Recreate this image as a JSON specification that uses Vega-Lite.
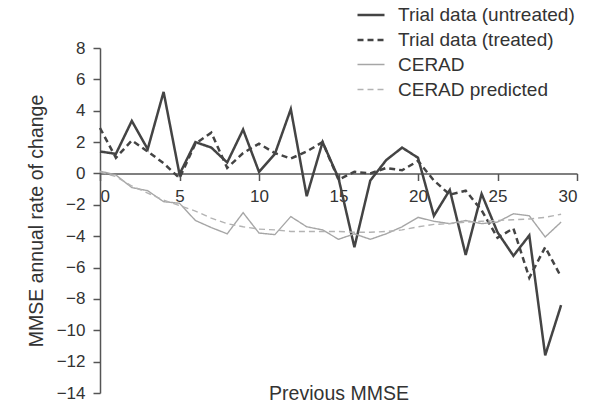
{
  "$schema": "https://vega.github.io/schema/vega-lite/v6.json",
  "width": 477,
  "height": 345,
  "autosize": "none",
  "padding": {"left": 100, "top": 48, "right": 18, "bottom": 10},
  "background": "white",
  "config": {
    "view": {"stroke": null},
    "font": "Liberation Sans",
    "axis": {
      "grid": false,
      "domainColor": "#555555",
      "domainWidth": 1.5,
      "tickColor": "#555555",
      "tickWidth": 1.5,
      "tickSize": 7,
      "labelColor": "#333333",
      "labelFontSize": 17,
      "labelFont": "Liberation Sans",
      "titleFont": "Liberation Sans",
      "titleFontSize": 19.5,
      "titleFontWeight": "normal",
      "titleColor": "#333333"
    }
  },
  "datasets": {
    "series": [
      {"x": 0, "s": "Trial data (untreated)", "y": 1.4},
      {"x": 1, "s": "Trial data (untreated)", "y": 1.25},
      {"x": 2, "s": "Trial data (untreated)", "y": 3.35},
      {"x": 3, "s": "Trial data (untreated)", "y": 1.55},
      {"x": 4, "s": "Trial data (untreated)", "y": 5.2},
      {"x": 5, "s": "Trial data (untreated)", "y": -0.05},
      {"x": 6, "s": "Trial data (untreated)", "y": 2.0},
      {"x": 7, "s": "Trial data (untreated)", "y": 1.65},
      {"x": 8, "s": "Trial data (untreated)", "y": 0.7},
      {"x": 9, "s": "Trial data (untreated)", "y": 2.8},
      {"x": 10, "s": "Trial data (untreated)", "y": 0.1},
      {"x": 11, "s": "Trial data (untreated)", "y": 1.25},
      {"x": 12, "s": "Trial data (untreated)", "y": 4.1},
      {"x": 13, "s": "Trial data (untreated)", "y": -1.45},
      {"x": 14, "s": "Trial data (untreated)", "y": 2.0},
      {"x": 15, "s": "Trial data (untreated)", "y": -0.3},
      {"x": 16, "s": "Trial data (untreated)", "y": -4.7},
      {"x": 17, "s": "Trial data (untreated)", "y": -0.45},
      {"x": 18, "s": "Trial data (untreated)", "y": 0.85},
      {"x": 19, "s": "Trial data (untreated)", "y": 1.65},
      {"x": 20, "s": "Trial data (untreated)", "y": 1.0},
      {"x": 21, "s": "Trial data (untreated)", "y": -2.7},
      {"x": 22, "s": "Trial data (untreated)", "y": -1.05},
      {"x": 23, "s": "Trial data (untreated)", "y": -5.2},
      {"x": 24, "s": "Trial data (untreated)", "y": -1.3},
      {"x": 25, "s": "Trial data (untreated)", "y": -3.75},
      {"x": 26, "s": "Trial data (untreated)", "y": -5.25},
      {"x": 27, "s": "Trial data (untreated)", "y": -3.95},
      {"x": 28, "s": "Trial data (untreated)", "y": -11.6},
      {"x": 29, "s": "Trial data (untreated)", "y": -8.4},
      {"x": 0, "s": "Trial data (treated)", "y": 2.9},
      {"x": 1, "s": "Trial data (treated)", "y": 1.0},
      {"x": 2, "s": "Trial data (treated)", "y": 2.1},
      {"x": 3, "s": "Trial data (treated)", "y": 1.4},
      {"x": 4, "s": "Trial data (treated)", "y": 0.65},
      {"x": 5, "s": "Trial data (treated)", "y": -0.3},
      {"x": 6, "s": "Trial data (treated)", "y": 1.9},
      {"x": 7, "s": "Trial data (treated)", "y": 2.6},
      {"x": 8, "s": "Trial data (treated)", "y": 0.35},
      {"x": 9, "s": "Trial data (treated)", "y": 1.3},
      {"x": 10, "s": "Trial data (treated)", "y": 1.9},
      {"x": 11, "s": "Trial data (treated)", "y": 1.3},
      {"x": 12, "s": "Trial data (treated)", "y": 0.95},
      {"x": 13, "s": "Trial data (treated)", "y": 1.4},
      {"x": 14, "s": "Trial data (treated)", "y": 2.0},
      {"x": 15, "s": "Trial data (treated)", "y": -0.4},
      {"x": 16, "s": "Trial data (treated)", "y": 0.1},
      {"x": 17, "s": "Trial data (treated)", "y": 0.0},
      {"x": 18, "s": "Trial data (treated)", "y": 0.35},
      {"x": 19, "s": "Trial data (treated)", "y": 0.2},
      {"x": 20, "s": "Trial data (treated)", "y": 0.8},
      {"x": 21, "s": "Trial data (treated)", "y": -0.45},
      {"x": 22, "s": "Trial data (treated)", "y": -1.35},
      {"x": 23, "s": "Trial data (treated)", "y": -1.1},
      {"x": 24, "s": "Trial data (treated)", "y": -2.35},
      {"x": 25, "s": "Trial data (treated)", "y": -4.1},
      {"x": 26, "s": "Trial data (treated)", "y": -3.5},
      {"x": 27, "s": "Trial data (treated)", "y": -6.65},
      {"x": 28, "s": "Trial data (treated)", "y": -4.7},
      {"x": 29, "s": "Trial data (treated)", "y": -6.6},
      {"x": 0, "s": "CERAD", "y": 0.15},
      {"x": 1, "s": "CERAD", "y": -0.1},
      {"x": 2, "s": "CERAD", "y": -0.9},
      {"x": 3, "s": "CERAD", "y": -1.1},
      {"x": 4, "s": "CERAD", "y": -1.8},
      {"x": 5, "s": "CERAD", "y": -1.9},
      {"x": 6, "s": "CERAD", "y": -3.0},
      {"x": 7, "s": "CERAD", "y": -3.45},
      {"x": 8, "s": "CERAD", "y": -3.85},
      {"x": 9, "s": "CERAD", "y": -2.5},
      {"x": 10, "s": "CERAD", "y": -3.8},
      {"x": 11, "s": "CERAD", "y": -3.9},
      {"x": 12, "s": "CERAD", "y": -2.75},
      {"x": 13, "s": "CERAD", "y": -3.4},
      {"x": 14, "s": "CERAD", "y": -3.6},
      {"x": 15, "s": "CERAD", "y": -4.2},
      {"x": 16, "s": "CERAD", "y": -3.85},
      {"x": 17, "s": "CERAD", "y": -4.2},
      {"x": 18, "s": "CERAD", "y": -3.85},
      {"x": 19, "s": "CERAD", "y": -3.4},
      {"x": 20, "s": "CERAD", "y": -2.8},
      {"x": 21, "s": "CERAD", "y": -3.05},
      {"x": 22, "s": "CERAD", "y": -3.2},
      {"x": 23, "s": "CERAD", "y": -3.0},
      {"x": 24, "s": "CERAD", "y": -3.2},
      {"x": 25, "s": "CERAD", "y": -3.1},
      {"x": 26, "s": "CERAD", "y": -2.57},
      {"x": 27, "s": "CERAD", "y": -2.7},
      {"x": 28, "s": "CERAD", "y": -4.05},
      {"x": 29, "s": "CERAD", "y": -3.1},
      {"x": 0, "s": "CERAD predicted", "y": 0.1},
      {"x": 1, "s": "CERAD predicted", "y": -0.2},
      {"x": 2, "s": "CERAD predicted", "y": -0.8},
      {"x": 3, "s": "CERAD predicted", "y": -1.25},
      {"x": 4, "s": "CERAD predicted", "y": -1.7},
      {"x": 5, "s": "CERAD predicted", "y": -2.05},
      {"x": 6, "s": "CERAD predicted", "y": -2.4},
      {"x": 7, "s": "CERAD predicted", "y": -2.85},
      {"x": 8, "s": "CERAD predicted", "y": -3.2},
      {"x": 9, "s": "CERAD predicted", "y": -3.4},
      {"x": 10, "s": "CERAD predicted", "y": -3.55},
      {"x": 11, "s": "CERAD predicted", "y": -3.6},
      {"x": 12, "s": "CERAD predicted", "y": -3.7},
      {"x": 13, "s": "CERAD predicted", "y": -3.7},
      {"x": 14, "s": "CERAD predicted", "y": -3.7},
      {"x": 15, "s": "CERAD predicted", "y": -3.7},
      {"x": 16, "s": "CERAD predicted", "y": -3.75},
      {"x": 17, "s": "CERAD predicted", "y": -3.75},
      {"x": 18, "s": "CERAD predicted", "y": -3.7},
      {"x": 19, "s": "CERAD predicted", "y": -3.6},
      {"x": 20, "s": "CERAD predicted", "y": -3.4},
      {"x": 21, "s": "CERAD predicted", "y": -3.25},
      {"x": 22, "s": "CERAD predicted", "y": -3.2},
      {"x": 23, "s": "CERAD predicted", "y": -3.1},
      {"x": 24, "s": "CERAD predicted", "y": -3.05},
      {"x": 25, "s": "CERAD predicted", "y": -3.0},
      {"x": 26, "s": "CERAD predicted", "y": -2.95},
      {"x": 27, "s": "CERAD predicted", "y": -2.9},
      {"x": 28, "s": "CERAD predicted", "y": -2.8},
      {"x": 29, "s": "CERAD predicted", "y": -2.6}
    ]
  },
  "data": {"name": "series"},
  "mark": {"type": "line", "strokeJoin": "miter"},
  "encoding": {
    "x": {
      "field": "x",
      "type": "quantitative",
      "scale": {"domain": [0, 30], "nice": false, "zero": false},
      "axis": {
        "values": [0, 5, 10, 15, 20, 25, 30],
        "offset": -219.5,
        "labelPadding": 8,
        "title": "Previous MMSE",
        "titleY": 226,
        "titleBaseline": "alphabetic"
      }
    },
    "y": {
      "field": "y",
      "type": "quantitative",
      "scale": {"domain": [-14, 8], "nice": false, "zero": false},
      "axis": {
        "values": [-14, -12, -10, -8, -6, -4, -2, 0, 2, 4, 6, 8],
        "labelPadding": 8,
        "title": "MMSE annual rate of change",
        "titlePadding": 10
      }
    },
    "color": {
      "field": "s",
      "type": "nominal",
      "sort": null,
      "scale": {
        "domain": ["Trial data (untreated)", "Trial data (treated)", "CERAD", "CERAD predicted"],
        "range": ["#444444", "#444444", "#a6a6a6", "#b3b3b3"]
      },
      "legend": {
        "title": null,
        "orient": "none",
        "legendX": 256,
        "legendY": -48,
        "padding": 0,
        "symbolType": "stroke",
        "symbolSize": 729,
        "labelFontSize": 19,
        "labelColor": "#333333",
        "labelFont": "Liberation Sans",
        "labelOffset": 12,
        "rowPadding": -1.5,
        "labelLimit": 300
      }
    },
    "strokeDash": {
      "field": "s",
      "type": "nominal",
      "sort": null,
      "scale": {
        "domain": ["Trial data (untreated)", "Trial data (treated)", "CERAD", "CERAD predicted"],
        "range": [[1, 0], [6, 4], [1, 0], [6, 4]]
      }
    },
    "strokeWidth": {
      "field": "s",
      "type": "nominal",
      "sort": null,
      "scale": {
        "type": "ordinal",
        "domain": ["Trial data (untreated)", "Trial data (treated)", "CERAD", "CERAD predicted"],
        "range": [2.5, 2.5, 1.4, 1.4]
      }
    }
  }
}
